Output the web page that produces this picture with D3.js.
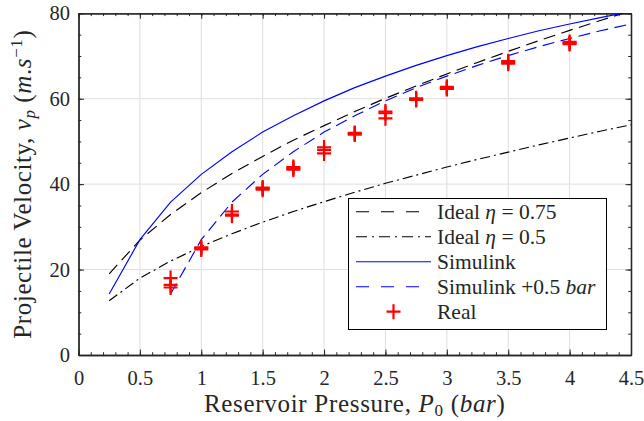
<!DOCTYPE html>
<html><head><meta charset="utf-8">
<script src="https://cdn.jsdelivr.net/npm/d3@7"></script>
<style>
html,body{margin:0;padding:0;background:#fff;}
svg{display:block;}
</style></head>
<body>
<svg id="chart" width="644" height="421"></svg>
<script>
// ---- data ----
const pressureGrid = [0.25,0.5,0.75,1,1.25,1.5,1.75,2,2.25,2.5,2.75,3,3.25,3.5,3.75,4,4.25,4.5];
const ideal075 = [19.0,26.9,32.9,38.0,42.5,46.5,50.3,53.7,57.0,60.1,63.0,65.8,68.5,71.1,73.6,76.0,78.3,80.6];
const ideal05  = [12.7,18.0,22.0,25.4,28.4,31.1,33.6,35.9,38.1,40.2,42.1,44.0,45.8,47.5,49.2,50.8,52.4,53.9];
const simulink = [14.3,27.0,35.8,42.3,47.6,52.2,56.0,59.5,62.6,65.3,67.8,70.1,72.2,74.1,75.9,77.5,79.0,80.4];
const simPlusP = [0.75,1,1.25,1.5,1.75,2,2.25,2.5,2.75,3,3.25,3.5,3.75,4,4.25,4.5];
const simPlus  = [14.3,27.0,35.8,42.3,47.6,52.2,56.0,59.5,62.6,65.3,67.8,70.1,72.2,74.1,75.9,77.5];
const realP = [0.75,0.75,0.75,1,1,1,1.25,1.25,1.25,1.5,1.5,1.5,1.75,1.75,1.75,2,2,2,2.25,2.25,2.25,2.5,2.5,2.5,2.75,2.75,2.75,3,3,3,3.5,3.5,3.5,4,4,4];
const realV = [18.0,16.4,15.8,25.2,24.7,25.0,33.6,32.6,32.9,39.2,38.7,39.0,44.0,43.4,43.7,48.6,48.0,47.2,52.0,51.6,51.8,57.0,56.6,55.4,60.1,59.7,59.9,62.8,62.3,62.5,68.8,68.2,68.5,73.3,72.8,73.0];
const xTicks = [0,0.5,1,1.5,2,2.5,3,3.5,4,4.5];
const xTickLabels = ["0","0.5","1","1.5","2","2.5","3","3.5","4","4.5"];
const yTicks = [0,20,40,60,80];
const yTickLabels = ["0","20","40","60","80"];

// ---- layout ----
const FONT = '"Liberation Serif","Times New Roman",serif';
const TXT = "#262626";
const L = 78.5, R = 631, T = 13.3, B = 355;
const svg = d3.select("#chart");
const x = d3.scaleLinear().domain([0,4.5]).range([L,R]);
const y = d3.scaleLinear().domain([0,80]).range([B,T]);

svg.append("defs").append("clipPath").attr("id","clip")
  .append("rect").attr("x",L).attr("y",T).attr("width",R-L).attr("height",B-T);

// grid
const grid = svg.append("g");
grid.selectAll(".gx").data(xTicks.slice(1,-1)).enter().append("line")
  .attr("x1",d=>x(d)).attr("x2",d=>x(d)).attr("y1",T).attr("y2",B)
  .attr("stroke","#dedede").attr("stroke-width",1);
grid.selectAll(".gy").data(yTicks.slice(1,-1)).enter().append("line")
  .attr("y1",d=>y(d)).attr("y2",d=>y(d)).attr("x1",L).attr("x2",R)
  .attr("stroke","#dedede").attr("stroke-width",1);

// axes (box with inward ticks)
const axCol = "#262626";
const xMinor = d3.range(0,4.5001,0.1);
const yMinor = d3.range(0,80.001,5);
svg.append("g").attr("transform",`translate(0,${B})`)
  .call(d3.axisBottom(x).tickValues(xTicks).tickFormat((d,i)=>xTickLabels[i]).tickSizeInner(-5.5).tickSizeOuter(0).tickPadding(15.5));
svg.append("g").attr("transform",`translate(0,${T})`)
  .call(d3.axisTop(x).tickValues(xTicks).tickFormat("").tickSizeInner(-5.5).tickSizeOuter(0));
svg.append("g").attr("transform",`translate(${L},0)`)
  .call(d3.axisLeft(y).tickValues(yTicks).tickFormat((d,i)=>yTickLabels[i]).tickSizeInner(-5.5).tickSizeOuter(0).tickPadding(8.5));
svg.append("g").attr("transform",`translate(${R},0)`)
  .call(d3.axisRight(y).tickValues(yTicks).tickFormat("").tickSizeInner(-5.5).tickSizeOuter(0));
svg.append("g").attr("transform",`translate(0,${B})`)
  .call(d3.axisBottom(x).tickValues(xMinor).tickFormat("").tickSizeInner(-2.8).tickSizeOuter(0));
svg.append("g").attr("transform",`translate(0,${T})`)
  .call(d3.axisTop(x).tickValues(xMinor).tickFormat("").tickSizeInner(-2.8).tickSizeOuter(0));
svg.append("g").attr("transform",`translate(${L},0)`)
  .call(d3.axisLeft(y).tickValues(yMinor).tickFormat("").tickSizeInner(-2.8).tickSizeOuter(0));
svg.append("g").attr("transform",`translate(${R},0)`)
  .call(d3.axisRight(y).tickValues(yMinor).tickFormat("").tickSizeInner(-2.8).tickSizeOuter(0));
svg.selectAll(".domain").attr("stroke",axCol).attr("stroke-width",1.3);
svg.selectAll(".tick line").attr("stroke",axCol).attr("stroke-width",1);
svg.selectAll(".tick text").attr("font-size",20.5).attr("fill",TXT).style("font-family",FONT);

// lines
const line = d3.line().x(d=>x(d[0])).y(d=>y(d[1]));
const plot = svg.append("g").attr("clip-path","url(#clip)");
function addLine(px, py, color, dash, w){
  plot.append("path").datum(px.map((p,i)=>[p,py[i]]))
    .attr("d",line).attr("fill","none").attr("stroke",color)
    .attr("stroke-width",w).attr("stroke-dasharray",dash);
}
addLine(pressureGrid, ideal075, "#000", "12,6.5", 1.15);
addLine(pressureGrid, ideal05, "#000", "10,4,2,4", 1.15);
addLine(pressureGrid, simulink, "#0000ff", null, 1.15);
addLine(simPlusP, simPlus, "#0000ff", "12,6.5", 1.15);

// red markers
const plus = "M-7,0H7M0,-7.5V7.5";
plot.selectAll(".real").data(realP.map((p,i)=>[p,realV[i]])).enter().append("path")
  .attr("d",plus).attr("transform",d=>`translate(${x(d[0])},${y(d[1])})`)
  .attr("stroke","#ff0000").attr("stroke-width",2.2).attr("fill","none");

// axis titles
const xt = svg.append("text").attr("x",(L+R)/2).attr("y",412).attr("text-anchor","middle")
  .attr("font-size",25).attr("fill",TXT).style("font-family",FONT).style("letter-spacing","0.7px");
xt.append("tspan").text("Reservoir Pressure, ");
xt.append("tspan").attr("font-style","italic").text("P");
xt.append("tspan").attr("font-size",17).attr("dy",4).text("0");
xt.append("tspan").attr("dy",-4).text(" (");
xt.append("tspan").attr("font-style","italic").text("bar");
xt.append("tspan").text(")");

const yt = svg.append("text").attr("transform",`translate(31,${(T+B)/2}) rotate(-90)`)
  .attr("text-anchor","middle").attr("font-size",25).attr("fill",TXT)
  .style("font-family",FONT).style("letter-spacing","0.6px");
yt.append("tspan").text("Projectile Velocity, ");
yt.append("tspan").attr("font-style","italic").text("v");
yt.append("tspan").attr("font-style","italic").attr("font-size",17).attr("dy",4).text("p");
yt.append("tspan").attr("dy",-4).text(" (");
yt.append("tspan").attr("font-style","italic").text("m");
yt.append("tspan").text(".");
yt.append("tspan").attr("font-style","italic").text("s");
yt.append("tspan").attr("font-size",17).attr("dy",-9).text("−1");
yt.append("tspan").attr("dy",9).text(")");

// legend
const lg = svg.append("g");
lg.append("rect").attr("x",348.5).attr("y",198.5).attr("width",258).attr("height",131)
  .attr("fill","#fff").attr("stroke","#000").attr("stroke-width",1);
const legItems = [
  {type:"line", color:"#000", dash:"13,12", parts:[["Ideal ",false],["η",true],[" = 0.75",false]]},
  {type:"line", color:"#000", dash:"11,5,2,5", parts:[["Ideal ",false],["η",true],[" = 0.5",false]]},
  {type:"line", color:"#0000ff", dash:null, parts:[["Simulink",false]]},
  {type:"line", color:"#0000ff", dash:"13,12", parts:[["Simulink +0.5 ",false],["bar",true]]},
  {type:"marker", color:"#ff0000", parts:[["Real",false]]}
];
legItems.forEach((it,i)=>{
  const cy = 211.7 + i*25;
  if(it.type==="line"){
    lg.append("line").attr("x1",356).attr("x2",431).attr("y1",cy).attr("y2",cy)
      .attr("stroke",it.color).attr("stroke-width",1.15).attr("stroke-dasharray",it.dash);
  } else {
    lg.append("path").attr("d",plus).attr("transform",`translate(393.5,${cy})`)
      .attr("stroke",it.color).attr("stroke-width",2.2).attr("fill","none");
  }
  const t = lg.append("text").attr("x",437).attr("y",cy+7.3).attr("font-size",21.5)
    .attr("fill",TXT).style("font-family",FONT);
  it.parts.forEach(p=>{ t.append("tspan").attr("font-style",p[1]?"italic":null).text(p[0]); });
});
</script>
</body></html>
